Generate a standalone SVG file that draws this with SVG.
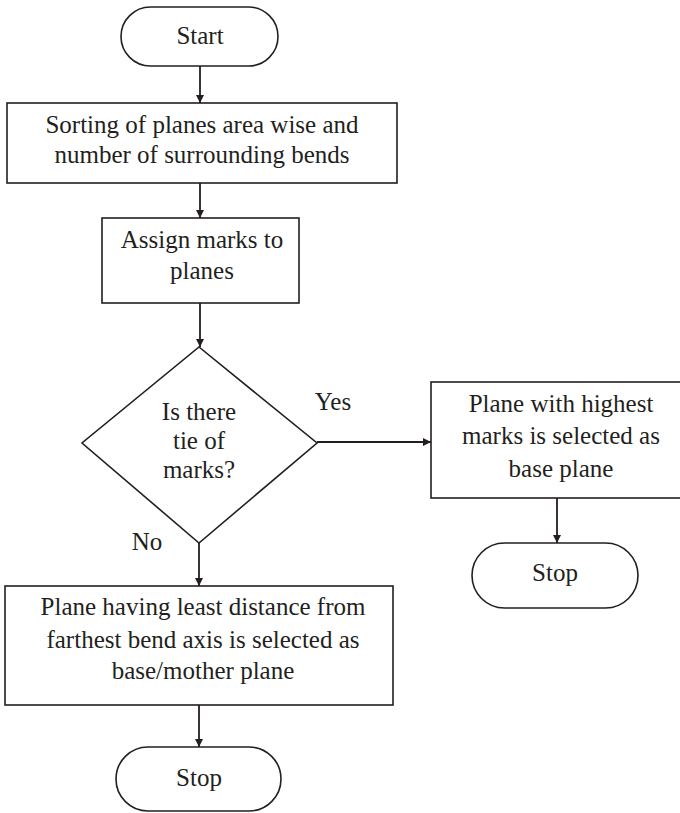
<svg xmlns="http://www.w3.org/2000/svg" width="680" height="813" viewBox="0 0 680 813">
  <defs>
    <marker id="arrow" viewBox="0 0 10 10" refX="10" refY="5" markerWidth="8" markerHeight="8" markerUnits="userSpaceOnUse" orient="auto">
      <path d="M0,0 L10,5 L0,10 Z" fill="#231f20"/>
    </marker>
    <style>
      .shape { fill: #ffffff; stroke: #231f20; stroke-width: 1.6; }
      .edge { fill: none; stroke: #231f20; stroke-width: 1.8; marker-end: url(#arrow); }
      text { font-family: "Liberation Serif", "Times New Roman", serif; font-size: 25px; fill: #231f20; text-anchor: middle; }
    </style>
  </defs>
  <rect width="680" height="813" fill="#ffffff"/>

  <g id="connectors">
    <line class="edge" x1="200" y1="66" x2="200" y2="103"/>
    <line class="edge" x1="200" y1="183" x2="200" y2="218"/>
    <line class="edge" x1="200" y1="303" x2="200" y2="347"/>
    <line class="edge" x1="317" y1="442" x2="431" y2="442"/>
    <line class="edge" x1="557" y1="498" x2="557" y2="543"/>
    <line class="edge" x1="199" y1="543" x2="199" y2="586"/>
    <line class="edge" x1="199" y1="705" x2="199" y2="747"/>
  </g>

  <g id="start">
    <rect class="shape" x="121" y="7" width="157" height="59" rx="29.5" ry="29.5"/>
    <text x="200" y="44">Start</text>
  </g>

  <g id="sort">
    <rect class="shape" x="7" y="103" width="390" height="80"/>
    <text x="202" y="133">Sorting of planes area wise and</text>
    <text x="202" y="163">number of surrounding bends</text>
  </g>

  <g id="assign">
    <rect class="shape" x="102" y="218" width="197" height="85"/>
    <text x="202" y="248">Assign marks to</text>
    <text x="202" y="279">planes</text>
  </g>

  <g id="decision">
    <polygon class="shape" points="199,347 317,443 199,543 82,443"/>
    <text x="199" y="420">Is there</text>
    <text x="199" y="449">tie of</text>
    <text x="199" y="478">marks?</text>
  </g>

  <g id="labels">
    <text x="333" y="410">Yes</text>
    <text x="147" y="550">No</text>
  </g>

  <g id="highest">
    <rect class="shape" x="431" y="382" width="260" height="116"/>
    <text x="561" y="412">Plane with highest</text>
    <text x="561" y="444">marks is selected as</text>
    <text x="561" y="477">base plane</text>
  </g>

  <g id="stop-right">
    <rect class="shape" x="472" y="543" width="166" height="65" rx="32.5" ry="32.5"/>
    <text x="555" y="581">Stop</text>
  </g>

  <g id="least">
    <rect class="shape" x="5" y="586" width="388" height="119"/>
    <text x="203" y="615">Plane having least distance from</text>
    <text x="203" y="648">farthest bend axis is selected as</text>
    <text x="203" y="679">base/mother plane</text>
  </g>

  <g id="stop-bottom">
    <rect class="shape" x="116" y="747" width="165" height="64" rx="32" ry="32"/>
    <text x="199" y="786">Stop</text>
  </g>
</svg>
